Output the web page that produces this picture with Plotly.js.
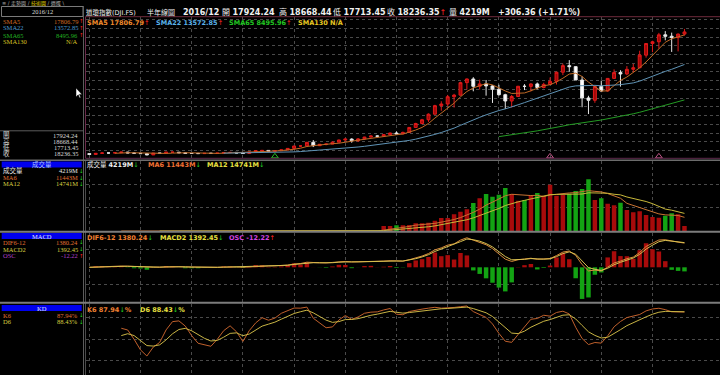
<!DOCTYPE html>
<html>
<head>
<meta charset="utf-8">
<script src="https://cdn.plot.ly/plotly-3.0.1.min.js"></script>
<style>
html,body{margin:0;padding:0;background:#000;overflow:hidden;}
#chart{width:720px;height:375px;}
</style>
</head>
<body>
<div id="chart"></div>
<script>
// ---------------- DATA ----------------
const periods = ["1970/06","1970/12","1971/06","1971/12","1972/06","1972/12","1973/06","1973/12","1974/06","1974/12","1975/06","1975/12","1976/06","1976/12","1977/06","1977/12","1978/06","1978/12","1979/06","1979/12","1980/06","1980/12","1981/06","1981/12","1982/06","1982/12","1983/06","1983/12","1984/06","1984/12","1985/06","1985/12","1986/06","1986/12","1987/06","1987/12","1988/06","1988/12","1989/06","1989/12","1990/06","1990/12","1991/06","1991/12","1992/06","1992/12","1993/06","1993/12","1994/06","1994/12","1995/06","1995/12","1996/06","1996/12","1997/06","1997/12","1998/06","1998/12","1999/06","1999/12","2000/06","2000/12","2001/06","2001/12","2002/06","2002/12","2003/06","2003/12","2004/06","2004/12","2005/06","2005/12","2006/06","2006/12","2007/06","2007/12","2008/06","2008/12","2009/06","2009/12","2010/06","2010/12","2011/06","2011/12","2012/06","2012/12","2013/06","2013/12","2014/06","2014/12","2015/06","2015/12","2016/06","2016/12"];

const open = [800,683,839,891,890,929,1020,892,851,802,616,879,852,1003,1005,916,831,819,805,842,839,868,964,977,875,812,1047,1222,1259,1132,1212,1335,1547,1893,1896,2419,1939,2142,2169,2440,2753,2881,2634,2907,3169,3319,3301,3516,3754,3625,3834,4556,5117,5655,6448,7673,7908,8952,9181,10971,11497,10448,10788,10502,10022,9243,8342,8985,10454,10435,10783,10275,10718,11150,12463,13409,13265,11350,8776,8447,10428,9774,11578,12414,12218,12880,13104,14910,16577,16827,17823,17620,17425,17924.24];

const high = [811,842,951,917,968,1036,1052,988,892,804,880,882,1011,1015,1005,923,869,917,880,898,903,1000,1024,977,882,1071,1248,1287,1287,1240,1336,1553,1893,1956,2446,2747,2164,2184,2532,2791,2935,3000,3035,3204,3414,3413,3560,3794,3978,3953,4589,5216,5778,6561,7796,8299,9211,9367,11107,11568,11750,11401,11350,10610,10673,9379,9200,10500,10753,10868,10984,10959,11710,12529,13692,14198,13279,11867,9088,10580,11258,11625,12876,12753,13338,13661,15542,16588,16978,18103,18351,18137,18016,18668.44];

const low = [631,669,830,797,889,910,869,788,795,570,616,784,852,924,899,800,742,785,796,796,759,866,931,824,795,776,1027,1174,1086,1086,1184,1298,1502,1756,1872,1738,1879,1990,2144,2438,2543,2365,2470,2836,3136,3136,3242,3449,3593,3624,3832,4514,5000,5346,6392,6936,7580,7400,9120,10000,9731,9976,9106,8062,9120,7197,7416,8936,9906,9708,10012,10156,10661,10699,12050,12518,11346,7449,6470,8087,9614,9686,11555,10404,12035,12471,13104,14551,15340,15855,17037,15370,15451,17713.45];

const close = [683,839,891,890,929,1020,892,851,802,616,879,852,1003,1005,916,831,819,805,842,839,868,964,977,875,812,1047,1222,1259,1132,1212,1335,1547,1893,1896,2419,1939,2142,2169,2440,2753,2881,2634,2907,3169,3319,3301,3516,3754,3625,3834,4556,5117,5655,6448,7673,7908,8952,9181,10971,11497,10448,10788,10502,10022,9243,8342,8985,10454,10435,10783,10275,10718,11150,12463,13409,13265,11350,8776,8447,10428,9774,11578,12414,12218,12880,13104,14910,16577,16827,17823,17620,17425,17930,18236.35];

// volume (millions), available from 1993/06 onward
const volumeFrom = "1993/06";
const volume = [4180,4190,4740,4750,5020,6420,6410,6980,8650,10880,10870,13950,16180,18140,23440,27340,30970,28740,30410,35990,30970,25390,25950,29300,31810,29570,38780,29570,30130,31250,33480,35150,43250,25950,27340,22880,21450,23700,17570,15620,16460,13390,11720,11160,12830,14790,13950,4219];

// vertical grid (every 4 years)
const gridPeriods = ["1970/06","1974/06","1978/06","1982/06","1986/06","1990/06","1994/06","1998/06","2002/06","2006/06","2010/06","2014/06"];

// small event markers on the bottom edge of the price panel
const eventPeriods = ["1984/12","2006/06","2014/12"];
const eventColors = ["#22c022","#c05888","#c05888"];

// ---------------- INDICATORS ----------------
function sma(arr,n){const out=[];for(let i=0;i<arr.length;i++){if(i<n-1){out.push(null);continue;}let s=0;for(let k=i-n+1;k<=i;k++)s+=arr[k];out.push(s/n);}return out;}
function ema(arr,n){const a=2/(n+1);const out=[];let e=null;for(const v of arr){e=(e===null)?v:e+a*(v-e);out.push(e);}return out;}

const N = periods.length;
const ma5 = sma(close,5), ma22 = sma(close,22), ma65 = sma(close,65);

const volStart = periods.indexOf(volumeFrom);
const volPeriods = periods.slice(volStart);
const volFull = periods.map((p,i)=> i<volStart ? 0 : volume[i-volStart]);
const vma6 = sma(volFull,6), vma12 = sma(volFull,12);
const volColors = volPeriods.map((p,j)=> close[volStart+j] >= open[volStart+j] ? '#a80b0b' : '#13a313');

const e6 = ema(close,6), e12 = ema(close,12);
const dif = e6.map((v,i)=> v - e12[i]);
const sig = ema(dif,2);
const osc = dif.map((v,i)=> v - sig[i]);
const oscColors = osc.map(v=> v>=0 ? '#a80b0b' : '#13a313');

const kArr=[], dArr=[]; let Kv=50, Dv=50;
for(let i=0;i<N;i++){
  if(i<5){kArr.push(null);dArr.push(null);continue;}
  let hh=-Infinity, ll=Infinity;
  for(let k=i-5;k<=i;k++){hh=Math.max(hh,high[k]);ll=Math.min(ll,low[k]);}
  const rsv=(close[i]-ll)/(hh-ll)*100;
  Kv=Kv*2/3+rsv/3; Dv=Dv*2/3+Kv/3;
  kArr.push(Kv); dArr.push(Dv);
}

// ---------------- GEOMETRY ----------------
const W=720, H=375;
const X = px => px/W;
const Y = py => 1 - py/H;

const priceTop = 20420;
const oscMax = Math.max(...osc.slice(20).map(Math.abs)) * 1.1;
const difTop = 2001, difBot = -1995;

// ---------------- TRACES ----------------
const traces = [
  {type:'candlestick', x:periods, open:open, high:high, low:low, close:close, xaxis:'x', yaxis:'y',
   increasing:{line:{color:'#e01a1a',width:1}, fillcolor:'#a30808'},
   decreasing:{line:{color:'#e6e6e6',width:1}, fillcolor:'#ffffff'},
   whiskerwidth:0, hoverinfo:'skip'},
  {type:'scatter', mode:'lines', x:periods, y:ma5, yaxis:'y', line:{color:'#c06a26',width:1}, hoverinfo:'skip'},
  {type:'scatter', mode:'lines', x:periods, y:ma22, yaxis:'y', line:{color:'#5f93b5',width:1}, hoverinfo:'skip'},
  {type:'scatter', mode:'lines', x:periods, y:ma65, yaxis:'y', line:{color:'#249c24',width:1}, hoverinfo:'skip'},
  {type:'scatter', mode:'markers', x:eventPeriods, y:eventPeriods.map(()=>priceTop*0.02), yaxis:'y',
   marker:{symbol:'triangle-up-open', size:6, color:eventColors, line:{width:1,color:eventColors}}, hoverinfo:'skip'},
  {type:'bar', x:volPeriods, y:volume, yaxis:'y2', marker:{color:volColors, line:{width:0}}, hoverinfo:'skip'},
  {type:'scatter', mode:'lines', x:periods, y:vma6, yaxis:'y2', line:{color:'#c87232',width:1}, hoverinfo:'skip'},
  {type:'scatter', mode:'lines', x:periods, y:vma12, yaxis:'y2', line:{color:'#c8b83a',width:1}, hoverinfo:'skip'},
  {type:'bar', x:periods, y:osc, yaxis:'y3', marker:{color:oscColors, line:{width:0}}, hoverinfo:'skip'},
  {type:'scatter', mode:'lines', x:periods, y:dif, yaxis:'y5', line:{color:'#d88a3a',width:1}, hoverinfo:'skip'},
  {type:'scatter', mode:'lines', x:periods, y:sig, yaxis:'y5', line:{color:'#d8c050',width:1}, hoverinfo:'skip'},
  {type:'scatter', mode:'lines', x:periods, y:kArr, yaxis:'y4', line:{color:'#c0602c',width:1}, hoverinfo:'skip'},
  {type:'scatter', mode:'lines', x:periods, y:dArr, yaxis:'y4', line:{color:'#c8b444',width:1}, hoverinfo:'skip'}
];

// ---------------- TEXT ----------------
const FONT = 'DejaVu Sans, Noto Sans CJK TC, sans-serif';
const SERIF = 'Liberation Serif, Noto Sans CJK TC, serif';
const ann = [];
function txt(px, py, text, size, color, extra){
  ann.push(Object.assign({xref:'paper', yref:'paper', x:X(px), y:Y(py), xanchor:'left', yanchor:'middle',
    text:text, showarrow:false, borderpad:0, font:{family:FONT, size:size, color:color}}, extra||{}));
}
const UP = '<span style="color:#ff2222">↑</span>';
const DN = '<span style="color:#22dd22">↓</span>';

// tab bar
txt(1, 3.2, '≡ / 走勢圖 / <span style="color:#e8d800">技術圖</span> / 週選 \\', 5, '#b0b0b0');

// title row
txt(85, 12, '道瓊指數(DJI.FS)', 6.5, '#f0f0f0');
txt(146, 12, '半年線圖', 7, '#f0f0f0');
txt(182, 12, '<b>2016/12</b>', 8, '#f0f0f0');
txt(221, 12, '開 <b>17924.24</b>', 8, '#f0f0f0');
txt(278, 12, '高 <b>18668.44</b>', 8, '#f0f0f0');
txt(332, 12, '低 <b>17713.45</b>', 8, '#f0f0f0');
txt(386, 12, '收 <b>18236.35</b>'+UP, 8, '#f0f0f0');
txt(448, 12, '量 <b>4219M</b>', 8, '#f0f0f0');
txt(497, 12, '<b>+306.36 (+1.71%)</b>', 8, '#f0f0f0');

// indicator label rows
txt(86, 22.5, '<b>SMA5 17806.79</b>'+UP, 6.5, '#f08a2c');
txt(155, 22.5, '<b>SMA22 13572.85</b>'+UP, 6.5, '#5ab2ea');
txt(228, 22.5, '<b>SMA65 8495.96</b>'+UP, 6.5, '#22c822');
txt(297, 22.5, '<b>SMA130 N/A</b>', 6.5, '#e8c822');

txt(86, 165, '成交量 <b>4219M</b>'+DN, 6.5, '#f0f0f0');
txt(147, 165, '<b>MA6 11443M</b>'+DN, 6.5, '#f07032');
txt(206, 165, '<b>MA12 14741M</b>'+DN, 6.5, '#e8e040');

txt(86, 237.5, '<b>DIF6-12 1380.24</b>'+DN, 6.5, '#f08032');
txt(159, 237.5, '<b>MACD2 1392.45</b>'+DN, 6.5, '#e8e040');
txt(228, 237.5, '<b>OSC -12.22</b>'+UP, 6.5, '#d044e0');

txt(86, 309.5, '<b>K6 87.94</b>'+DN+'<b>%</b>', 6.5, '#f08032');
txt(139, 309.5, '<b>D6 88.43</b>'+DN+'<b>%</b>', 6.5, '#e8e040');

// left info panel
function row(py, label, value, color, arrow, vcolor){
  ann.push({xref:'paper',yref:'paper',x:X(2),y:Y(py),xanchor:'left',yanchor:'middle',text:label,showarrow:false,borderpad:0,font:{family:SERIF,size:6.5,color:color}});
  ann.push({xref:'paper',yref:'paper',x:X(78.5),y:Y(py),xanchor:'right',yanchor:'middle',text:value,showarrow:false,borderpad:0,font:{family:SERIF,size:6.5,color:vcolor||color}});
  if(arrow) ann.push({xref:'paper',yref:'paper',x:X(81),y:Y(py),xanchor:'center',yanchor:'middle',text:arrow,showarrow:false,borderpad:0,font:{family:FONT,size:5.5,color:'#fff'}});
}
ann.push({xref:'paper',yref:'paper',x:X(42),y:Y(11.3),xanchor:'center',yanchor:'middle',text:'2016/12',showarrow:false,borderpad:0,font:{family:SERIF,size:6.5,color:'#d8d8d8'}});
row(21, 'SMA5', '17806.79', '#d06a22', UP);
row(28, 'SMA22', '13572.85', '#4a9ad2', UP);
row(35, 'SMA65', '8495.96', '#22b022', UP);
row(42, 'SMA130', 'N/A', '#d8c022', null);
row(135.5, '開', '17924.24', '#d8d8d8', null);
row(141.5, '高', '18668.44', '#d8d8d8', null);
row(147.5, '低', '17713.45', '#d8d8d8', null);
row(153.5, '收', '18236.35', '#d8d8d8', null);

ann.push({xref:'paper',yref:'paper',x:X(42),y:Y(164.5),xanchor:'center',yanchor:'middle',text:'成交量',showarrow:false,borderpad:0,font:{family:FONT,size:6.5,color:'#b0ccff'}});
row(171, '成交量', '4219M', '#e8e8e8', DN);
row(177.5, 'MA6', '11443M', '#e07032', DN);
row(184, 'MA12', '14741M', '#d8d040', DN);

ann.push({xref:'paper',yref:'paper',x:X(42),y:Y(236),xanchor:'center',yanchor:'middle',text:'MACD',showarrow:false,borderpad:0,font:{family:SERIF,size:6.5,color:'#e0e8ff'}});
row(242.5, 'DIF6-12', '1380.24', '#e07032', DN);
row(249, 'MACD2', '1392.45', '#d8d040', DN);
row(255.5, 'OSC', '-12.22', '#b040c8', UP);

ann.push({xref:'paper',yref:'paper',x:X(42),y:Y(308),xanchor:'center',yanchor:'middle',text:'KD',showarrow:false,borderpad:0,font:{family:SERIF,size:6.5,color:'#e0e8ff'}});
row(315, 'K6', '87.94%', '#e07032', DN);
row(321.5, 'D6', '88.43%', '#d8d040', DN);

// ---------------- SHAPES ----------------
function hline(py, x0, x1, color, w){return {type:'line',xref:'paper',yref:'paper',x0:X(x0),x1:X(x1),y0:Y(py),y1:Y(py),line:{color:color,width:w},layer:'above'};}
function vline(px, y0, y1, color, w){return {type:'line',xref:'paper',yref:'paper',x0:X(px),x1:X(px),y0:Y(y0),y1:Y(y1),line:{color:color,width:w},layer:'above'};}
function rect(x0,y0,x1,y1,fill,lc){return {type:'rect',xref:'paper',yref:'paper',x0:X(x0),x1:X(x1),y0:Y(y1),y1:Y(y0),fillcolor:fill,line:{color:lc||fill,width:lc?1:0},layer:'below'};}
const shapes = [
  rect(1.5,6.5,83,16.5,'rgba(0,0,0,0)','#7a7a7a'),
  vline(83.5,6,375,'#5c5c5c',1),
  vline(85.5,16.7,158.3,'#6a2a4a',1),
  vline(85.5,160.5,375,'#4a4a4a',1),
  hline(16.7,85.5,720,'#6e2a3c',1),
  hline(158.3,85.5,720,'#5e2a4c',1),
  hline(130.8,0,83.5,'#5c5c5c',1),
  hline(160.2,0,720,'#6c6c6c',1.5),
  hline(231.8,0,720,'#7c7c7c',2),
  hline(302.8,0,720,'#7c7c7c',2),
  rect(1.7,161.6,81.7,167.4,'#0000ee'),
  rect(1.7,233,81.7,239,'#0000ee'),
  rect(1.7,305,81.7,311,'#0000ee'),
  {type:'path', xref:'paper', yref:'paper', layer:'above',
   path:'M '+X(76)+','+Y(88)+' L '+X(76)+','+Y(97)+' L '+X(78.2)+','+Y(94.8)+' L '+X(79.6)+','+Y(98)+' L '+X(80.8)+','+Y(97.4)+' L '+X(79.4)+','+Y(94.4)+' L '+X(82)+','+Y(94.4)+' Z',
   fillcolor:'#ffffff', line:{color:'#000',width:0.5}}
];

// ---------------- LAYOUT ----------------
const gridC = '#4a4a4a';
const yBase = {showticklabels:false, ticks:'', zeroline:false, showline:false, fixedrange:true, anchor:'x',
               showgrid:true, gridcolor:gridC, griddash:'dot', gridwidth:1};
const layout = {
  width:W, height:H, margin:{l:0,r:0,t:0,b:0,pad:0},
  paper_bgcolor:'#000', plot_bgcolor:'#000', showlegend:false, hovermode:false,
  bargap:0.3, boxgap:0.35,
  xaxis:{domain:[X(85.5),1], type:'category', range:[-0.594, 98.55], showticklabels:false, ticks:'',
         showgrid:true, gridcolor:gridC, griddash:'dot', gridwidth:1, tickmode:'array', tickvals:gridPeriods,
         zeroline:false, showline:false, fixedrange:true, rangeslider:{visible:false}},
  yaxis:Object.assign({}, yBase, {domain:[Y(159.2), Y(16.7)], range:[0, priceTop], tick0:0, dtick:1250}),
  yaxis2:Object.assign({}, yBase, {domain:[Y(231), Y(160.5)], range:[0, 59000], tickmode:'array', tickvals:[19300,38600]}),
  yaxis3:Object.assign({}, yBase, {domain:[Y(302), Y(232.5)], range:[oscMax*difBot/difTop, oscMax], tickmode:'array', tickvals:[-oscMax*1000/difTop, oscMax*1000/difTop]}),
  yaxis4:Object.assign({}, yBase, {domain:[0, Y(303.5)], range:[0, 100], tickmode:'array', tickvals:[20,50,80]}),
  yaxis5:Object.assign({}, yBase, {domain:[Y(302), Y(232.5)], range:[difBot, difTop], overlaying:'y3', showgrid:false}),
  annotations:ann, shapes:shapes
};

Plotly.newPlot('chart', traces, layout, {staticPlot:true, displayModeBar:false});
</script>
</body>
</html>
